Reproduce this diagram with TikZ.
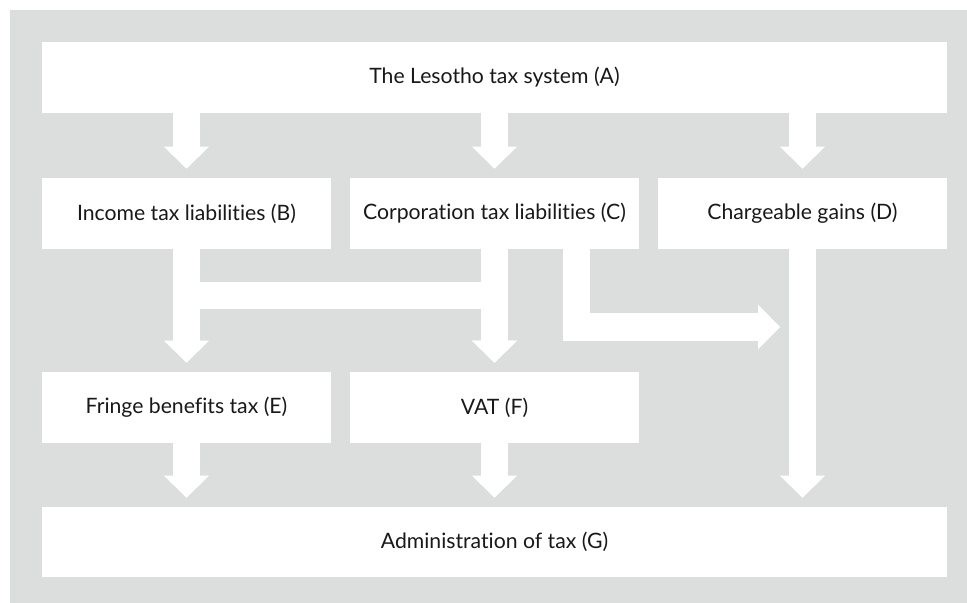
\documentclass[tikz,border=0pt]{standalone}
\usepackage{fontspec}
\setmainfont{Lato}[Ligatures=NoCommon]
\usetikzlibrary{arrows.meta}
\definecolor{panelgray}{RGB}{220,222,221}
\definecolor{labelink}{RGB}{25,25,25}

\begin{document}
\begin{tikzpicture}[x=0.75pt, y=-0.75pt,
    box/.style={fill=white, inner sep=0pt, minimum height=53.25pt,
      text=labelink, font=\fontsize{15.9}{18}\selectfont},
    widebox/.style={box, minimum width=678.75pt},
    smallbox/.style={box, minimum width=216.75pt},
    flow/.style={white, line width=20.6pt, line join=miter,
      -{Triangle[width=33.75pt, length=16.5pt, line width=0pt]},
      shorten >=6.75pt}]
  \useasboundingbox (0,0) rectangle (967,603);
  \fill[panelgray] (10,10) rectangle (967,603);
  % top and bottom bars
  \node[widebox] (A) at (494.5,77.5) {The Lesotho tax system (A)};
  \node[widebox, minimum height=52.5pt] (G) at (494.5,542) {Administration of tax (G)};
  % the two rows of boxes
  \foreach \x/\y/\z/\t in {186.5/213.5/B/Income tax liabilities (B),
      494.5/213.5/C/Corporation tax liabilities (C),
      802.5/213.5/D/Chargeable gains (D),
      186.5/407.5/E/Fringe benefits tax (E),
      494.5/407.5/F/VAT (F)}
  {
    \node[smallbox] (\z) at (\x, \y) {\t};
  }
  \coordinate (Djoin) at (780,327);
  % flows
  \path[draw, flow] (A.south -| B) -- (B);
  \path[draw, flow] (A.south -| C) -- (C);
  \path[draw, flow] (A.south -| D) -- (D);
  \path[draw, flow] (B) -- (E);
  \path[draw, flow] (B.south) -- ++(0,46) -| (F.north);
  \path[draw, flow] (C) -- (F);
  \path[draw, flow, shorten >=0pt] ([xshift=-47.25pt]C.south east) |- (Djoin);
  \path[draw, flow] (D.south) -- (D.south |- G.north);
  \path[draw, flow] (E) -- (E |- G.north);
  \path[draw, flow] (F) -- (F |- G.north);
\end{tikzpicture}
\end{document}
